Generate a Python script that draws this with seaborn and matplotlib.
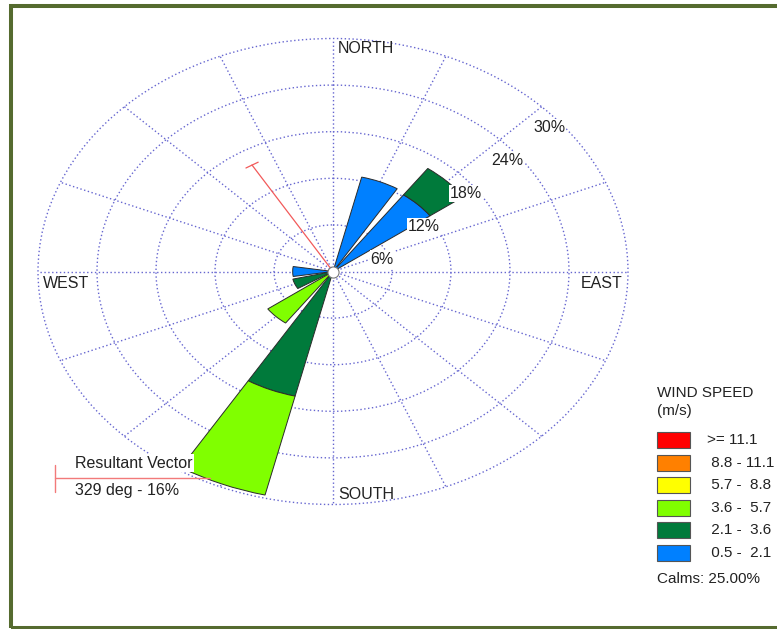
import numpy as np
import matplotlib
matplotlib.use("Agg")
import matplotlib.pyplot as plt
from matplotlib.patches import Rectangle
from matplotlib.lines import Line2D
import seaborn as sns

# --- data -------------------------------------------------------------
directions = ["N", "NNE", "NE", "ENE", "E", "ESE", "SE", "SSE",
              "S", "SSW", "SW", "WSW", "W", "WNW", "NW", "NNW"]
dir_angles = np.arange(16) * 22.5

# frequency (%) per direction, one array per wind speed class
freq_05_21 = [0, 12.5, 12.2, 0, 0, 0, 0, 0, 0, 0, 0, 0, 4.1, 0, 0, 0]
freq_21_36 = [0, 0, 4.2, 0, 0, 0, 0, 0, 0, 16.5, 0, 4.2, 0, 0, 0, 0]
freq_36_57 = [0, 0, 0, 0, 0, 0, 0, 0, 0, 13.1, 8.2, 0, 0, 0, 0, 0]
freq_57_88 = [0] * 16
freq_88_111 = [0] * 16
freq_ge_111 = [0] * 16

speed_labels = [">= 11.1", " 8.8 - 11.1", " 5.7 -  8.8",
                " 3.6 -  5.7", " 2.1 -  3.6", " 0.5 -  2.1"]
speed_colors = ["#FF0000", "#FF8000", "#FFFF00",
                "#80FF00", "#007A3B", "#0080FF"]
ring_values = [6, 12, 18, 24, 30]
calms_pct = 25.00
resultant_deg = 329
resultant_pct = 16

# --- style ------------------------------------------------------------
sns.set_style("white")
plt.rcParams["font.family"] = ["Liberation Sans", "DejaVu Sans"]
TXT = "#222222"
GRID = "#6666d0"

W, H = 777, 629
fig = plt.figure(figsize=(W / 100, H / 100), dpi=100)
fig.patch.set_facecolor("white")


def fx(x):
    return x / W


def fy(y):
    return 1 - y / H


# elliptical rose: polar axes stretched to fill a wide box
left, right, top, bottom = 38, 628, 38.5, 504.5
ax = fig.add_axes([fx(left), fy(bottom), (right - left) / W, (bottom - top) / H],
                  projection="polar")
ax.set_aspect("auto")
ax.set_theta_zero_location("N")
ax.set_theta_direction(-1)
ax.set_ylim(0, 30)
ax.set_xticks(np.deg2rad(dir_angles))
ax.set_xticklabels([])
ax.set_yticks(ring_values)
ax.set_yticklabels([])
ax.spines["polar"].set_visible(False)
ax.grid(True, color=GRID, linestyle=(0, (1.0, 1.8)), linewidth=1.0)
for gl in ax.yaxis.get_gridlines() + ax.xaxis.get_gridlines():
    gl.set_clip_on(False)
ax.set_facecolor("none")

# stacked bars, slowest class at the centre
stack = [freq_05_21, freq_21_36, freq_36_57, freq_57_88, freq_88_111, freq_ge_111]
stack_colors = speed_colors[::-1]
theta = np.deg2rad(dir_angles)
base = np.zeros(16)
for vals, col in zip(stack, stack_colors):
    vals = np.asarray(vals, dtype=float)
    mask = vals > 0
    if mask.any():
        ax.bar(theta[mask], vals[mask], width=np.deg2rad(18), bottom=base[mask],
               color=col, edgecolor="#2a2a2a", linewidth=0.7, zorder=3)
    base += vals

# calms circle
ax.plot([0], [0], marker="o", ms=8, mfc="white", mec="#777777", mew=0.8,
        zorder=6, clip_on=False)

# resultant vector
rth = np.deg2rad(resultant_deg)
ax.plot([rth, rth], [0, resultant_pct], color="#f25a5a", lw=0.9, zorder=4)
ax.plot([rth - np.deg2rad(2.6), rth + np.deg2rad(2.6)],
        [resultant_pct, resultant_pct], color="#f25a5a", lw=0.9, zorder=4)

# ring labels
for r in ring_values:
    ax.annotate(f"{r}%", xy=(np.deg2rad(45), r), xytext=(5.5, -14.8),
                textcoords="offset points", ha="center", va="center",
                fontsize=11.5, color=TXT, zorder=7,
                bbox=dict(facecolor="white", edgecolor="none", pad=0.8))

# compass labels
ax.annotate("NORTH", xy=(0, 28.65), xytext=(3.6, 0), textcoords="offset points",
            ha="left", va="center", fontsize=11.5, color=TXT)
ax.annotate("SOUTH", xy=(np.pi, 28.7), xytext=(3.6, 0), textcoords="offset points",
            ha="left", va="center", fontsize=11.5, color=TXT)
ax.annotate("WEST", xy=(np.deg2rad(270), 29.5), xytext=(0, -8.6),
            textcoords="offset points", ha="left", va="center", fontsize=11.5, color=TXT)
ax.annotate("EAST", xy=(np.deg2rad(90), 29.4), xytext=(0, -8.6),
            textcoords="offset points", ha="right", va="center", fontsize=11.5, color=TXT)

# resultant vector key
fig.add_artist(Line2D([fx(55), fx(210)], [fy(478), fy(478)], color="#f27a7a", lw=1.0))
fig.add_artist(Line2D([fx(55), fx(55)], [fy(465), fy(492)], color="#f27a7a", lw=1.0))
fig.text(fx(75), fy(463), "Resultant Vector", ha="left", va="center",
         fontsize=11.5, color=TXT,
         bbox=dict(facecolor="white", edgecolor="none", pad=1.0))
fig.text(fx(75), fy(490), f"{resultant_deg} deg - {resultant_pct}%", ha="left",
         va="center", fontsize=11.5, color=TXT,
         bbox=dict(facecolor="white", edgecolor="none", pad=1.0))

# wind speed key
fig.text(fx(657), fy(393), "WIND SPEED", ha="left", va="center", fontsize=11, color=TXT)
fig.text(fx(657), fy(411), "(m/s)", ha="left", va="center", fontsize=11, color=TXT)
for i, (lab, col) in enumerate(zip(speed_labels, speed_colors)):
    y0 = 432 + i * 22.6
    fig.add_artist(Rectangle((fx(657), fy(y0 + 16)), 33 / W, 16 / H,
                             transform=fig.transFigure, facecolor=col,
                             edgecolor="#555555", linewidth=0.8))
    fig.text(fx(707), fy(y0 + 8), lab, ha="left", va="center",
             fontsize=11, color=TXT)
fig.text(fx(657), fy(579), f"Calms: {calms_pct:.2f}%", ha="left", va="center",
         fontsize=11, color=TXT)

# outer frame
fig.add_artist(Rectangle((fx(11), fy(627.5)), (800 - 11) / W, (627.5 - 5.5) / H,
                         transform=fig.transFigure, facecolor="none",
                         edgecolor="#556B2F", linewidth=2.9))

fig.savefig("out.png", dpi=100)
